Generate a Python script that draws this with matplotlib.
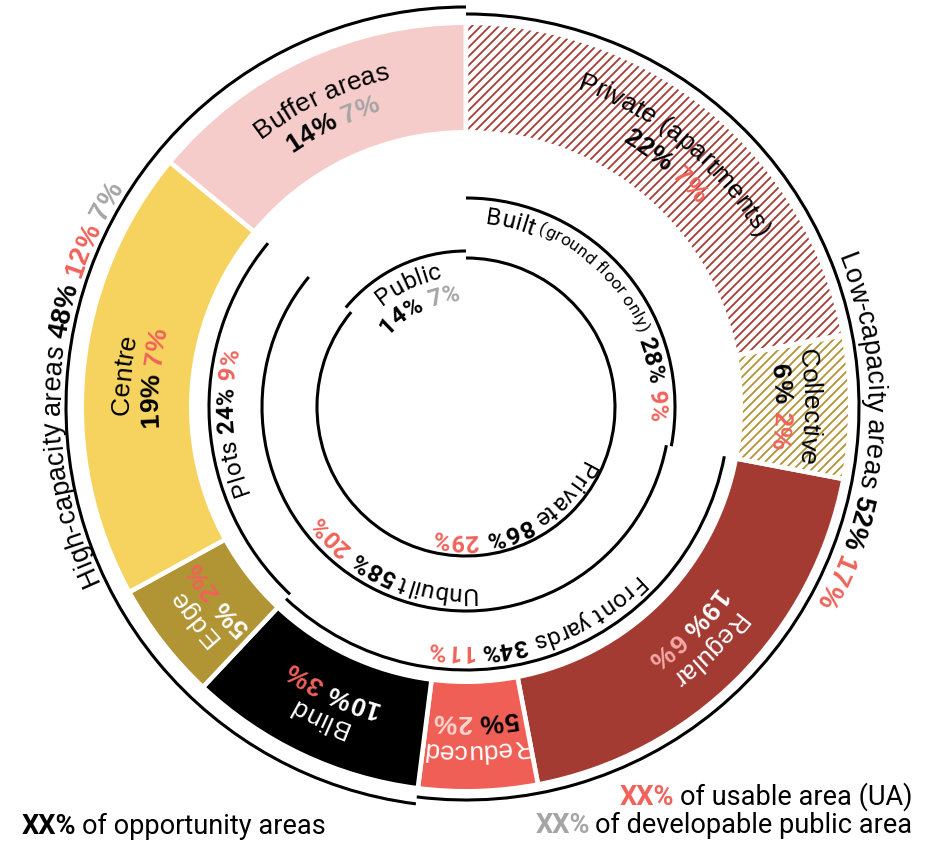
import os
import numpy as np
import matplotlib
matplotlib.use("Agg")
import matplotlib.pyplot as plt
from matplotlib.patches import Wedge, Arc
from matplotlib.collections import LineCollection
from matplotlib.font_manager import FontProperties, findfont

# outer ring, clockwise from 12 o'clock
ring_labels = ["Private (apartments)", "Collective", "Regular", "Reduced",
               "Blind", "Edge", "Centre", "Buffer areas"]
ring_share = [22, 6, 19, 5, 10, 5, 19, 14]
ring_second = [7, 2, 6, 2, 3, 2, 7, 7]

# capacity groups around the ring, clockwise from 12 o'clock
group_labels = ["Low-capacity areas", "High-capacity areas"]
group_share = [52, 48]
group_ua = [17, 12]
group_public = [None, 7]

# inner levels, clockwise
lvl1_labels = ["Private", "Public"]
lvl1_share = [86, 14]
lvl1_second = [29, 7]
lvl2_labels = ["Built", "Unbuilt"]
lvl2_share = [28, 58]
lvl2_second = [9, 20]
lvl3_labels = ["Front yards", "Plots"]
lvl3_share = [34, 24]
lvl3_second = [11, 9]

W, H = 931, 844
CX, CY = 466, H - 407
RED = "#f0625a"
GRAY = "#a5a5a5"

fig = plt.figure(figsize=(W / 100, H / 100), dpi=100)
ax = fig.add_axes([0, 0, 1, 1])
ax.set_xlim(0, W)
ax.set_ylim(0, H)
ax.axis("off")
renderer = fig.canvas.get_renderer()


def fp(family, size, weight="normal"):
    return FontProperties(family=family, size=size, weight=weight)


def family_with_bold(cands):
    # first family that really ships a bold face
    for fam in cands:
        try:
            path = findfont(FontProperties(family=fam, weight="bold"), fallback_to_default=False)
        except ValueError:
            continue
        if "bold" in os.path.basename(path).lower():
            return fam
    return "DejaVu Sans"


SANS = "Liberation Sans"
FRANK = family_with_bold(["Roboto", "Lato", "Open Sans", "Noto Sans", "Liberation Sans"])
lab_f = fp(SANS, 19)
lab_b = fp(SANS, 19, "bold")
out_f = fp(SANS, 19.5)
out_b = fp(SANS, 19.5, "bold")
in_f = fp(FRANK, 17.5)
in_b = fp(FRANK, 17.5, "bold")
in_s = fp(FRANK, 12.5)
leg_f = fp(FRANK, 19.5)
leg_b = fp(FRANK, 19.5, "bold")


def advance(s, prop):
    base = renderer.get_text_width_height_descent("||", prop, ismath=False)[0]
    full = renderer.get_text_width_height_descent("|" + s + "|", prop, ismath=False)[0]
    return full - base


def arc_text(pieces, r, mid):
    # pieces: (text, font, colour, radial shift); runs clockwise, tops outward
    chars = []
    for s, prop, col, dr in pieces:
        for ch in s:
            chars.append((ch, prop, col, dr, advance(ch, prop)))
    total = sum(c[4] for c in chars)
    a = np.radians(mid) + total / 2 / r
    for ch, prop, col, dr, w in chars:
        ac = a - w / 2 / r
        a -= w / r
        if ch == " ":
            continue
        rr = r + dr
        ax.text(CX + rr * np.cos(ac), CY + rr * np.sin(ac), ch,
                rotation=np.degrees(ac) - 90, rotation_mode="anchor",
                ha="center", va="baseline", fontproperties=prop, color=col)


def arc_line(r, start, share, lw=2.2):
    end = start - share * 3.6
    ax.add_patch(Arc((CX, CY), 2 * r, 2 * r, theta1=end, theta2=start,
                     lw=lw, color="black", capstyle="butt"))
    return end, (start + end) / 2


# outer ring wedges
ring_face = ["white", "white", "#a33b33", "#ef5f55", "black", "#b19434", "#f6d35f", "#f6cccb"]
ring_hatch = ["#a83c34", "#b39535", None, None, None, None, None, None]
label_col = ["black", "black", "white", "white", "white", "white", "black", "black"]
first_col = ["black", "black", "white", "black", "white", "white", "black", "black"]
second_col = [RED, RED, "#f5aaa5", "#fcd5d0", RED, RED, RED, GRAY]

R_OUT, R_IN = 384.3, 274.7
hatch_offsets = np.arange(-W, W + H, 9.0)
start = 90
for i, share in enumerate(ring_share):
    end = start - share * 3.6
    w = Wedge((CX, CY), R_OUT, end, start, width=R_OUT - R_IN,
              facecolor=ring_face[i], edgecolor="white", lw=3.3)
    ax.add_patch(w)
    if ring_hatch[i]:
        segs = [[(o, 0), (o + H, H)] for o in hatch_offsets]
        lc = LineCollection(segs, colors=ring_hatch[i], lw=1.3, zorder=1.5)
        ax.add_collection(lc)
        lc.set_clip_path(w)
        ax.add_patch(Wedge((CX, CY), R_OUT, end, start, width=R_OUT - R_IN,
                           fill=False, edgecolor="white", lw=3.3, zorder=1.6))
    mid = (start + end) / 2
    arc_text([(ring_labels[i], lab_f, label_col[i], 0)], 337, mid)
    arc_text([(f"{share}%", lab_b, first_col[i], 0),
              (f" {ring_second[i]}%", lab_b, second_col[i], 0)], 308, mid)
    start = end

# capacity group arcs outside the ring
group_r = [393, 400]
group_text_r = [401, 406]
start = 90
for i, share in enumerate(group_share):
    start, mid = arc_line(group_r[i], start, share)
    pieces = [(group_labels[i], out_f, "black", 0),
              (f" {share}%", out_b, "black", 0),
              (f" {group_ua[i]}%", out_b, RED, 0)]
    if group_public[i] is not None:
        pieces.append((f" {group_public[i]}%", out_b, GRAY, 0))
    arc_text(pieces, group_text_r[i], mid)

# level 1: private / public
end, mid = arc_line(149, 90, lvl1_share[0])
arc_text([(lvl1_labels[0], in_f, "black", 0),
          (f" {lvl1_share[0]}%", in_b, "black", 0),
          (f" {lvl1_second[0]}%", in_b, RED, 0)], 127, mid)
end2, mid = arc_line(156, end, lvl1_share[1])
arc_text([(lvl1_labels[1], in_f, "black", 0)], 131, mid)
arc_text([(f"{lvl1_share[1]}%", in_b, "black", 0),
          (f" {lvl1_second[1]}%", in_b, GRAY, 0)], 106, mid)

# level 2: built / unbuilt
end, mid = arc_line(209, 90, lvl2_share[0])
arc_text([(lvl2_labels[0], in_f, "black", 0),
          (" (ground floor only)", in_s, "black", 4.5),
          (f" {lvl2_share[0]}%", in_b, "black", 0),
          (f" {lvl2_second[0]}%", in_b, RED, 0)], 184, mid)
lvl3_start = end
end, mid = arc_line(204, end, lvl2_share[1])
arc_text([(lvl2_labels[1], in_f, "black", 0),
          (f" {lvl2_share[1]}%", in_b, "black", 0),
          (f" {lvl2_second[1]}%", in_b, RED, 0)], 180, mid)

# level 3: front yards / plots (split of unbuilt)
lvl3_r = [263, 257]
lvl3_text_r = [238, 233]
start = lvl3_start
for i, share in enumerate(lvl3_share):
    start, mid = arc_line(lvl3_r[i], start, share)
    arc_text([(lvl3_labels[i], in_f, "black", 0),
              (f" {share}%", in_b, "black", 0),
              (f" {lvl3_second[i]}%", in_b, RED, 0)], lvl3_text_r[i], mid)


# legend
def line_text(x, y, pieces, align="left"):
    widths = [advance(s, prop) + gap for s, prop, col, gap in pieces]
    if align == "right":
        x -= sum(widths)
    for (s, prop, col, gap), w in zip(pieces, widths):
        ax.text(x, y, s, fontproperties=prop, color=col, ha="left", va="baseline")
        x += w


line_text(22, H - 834, [("XX%", leg_b, "black", 5), ("of opportunity areas", leg_f, "black", 0)])
line_text(912, H - 805, [("XX%", leg_b, RED, 5), ("of usable area (UA)", leg_f, "black", 0)], "right")
line_text(912, H - 833, [("XX%", leg_b, GRAY, 5), ("of developable public area", leg_f, "black", 0)], "right")

fig.savefig("out.png", dpi=100)
